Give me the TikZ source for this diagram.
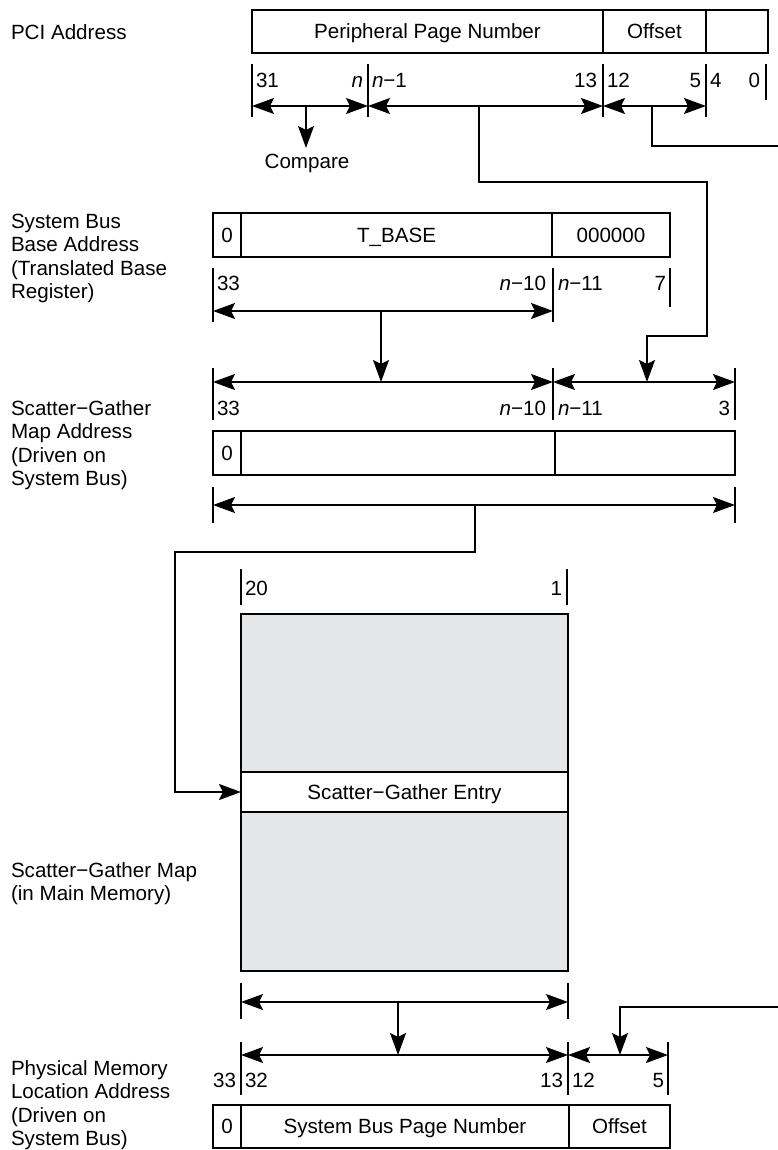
\documentclass[tikz,border=0pt]{standalone}
\usepackage{fontspec}
\setmainfont{Liberation Sans}
\usetikzlibrary{arrows.meta}
\definecolor{mapgray}{RGB}{229,230,232}
\newcommand\firstln{\rule{0pt}{15pt}}
\begin{document}
\begin{tikzpicture}[x=1pt,y=-1pt,
  line width=1.4pt,
  >={Stealth[length=22pt,width=16pt,inset=4pt]},
  every node/.style={font=\fontsize{20.6}{23.3}\selectfont, inner sep=0pt, outer sep=0pt},
  cell/.style={draw, rectangle, anchor=north west, text height=14.7pt, text depth=0pt, minimum height=44pt},
  sidelbl/.style={anchor=north west, align=left},
  labw/.style={anchor=base west},
  labe/.style={anchor=base east},
  dimarr/.style={<->},
  onearr/.style={->},
]
\useasboundingbox (0,0) rectangle (778,1150);

% ---------- side labels ----------
\node[sidelbl] (lpci) at (11,24.4) {\firstln PCI Address};
\node[sidelbl] (lsb) at (11,213.4) {\firstln System Bus\\Base Address\\(Translated Base\\Register)};
\node[sidelbl] (lsg) at (11,400.4) {\firstln Scatter−Gather\\Map Address\\(Driven on\\System Bus)};
\node[sidelbl] (lmap) at (11,862.4) {\firstln Scatter−Gather Map\\(in Main Memory)};
\node[sidelbl] (lphy) at (11,1060.4) {\firstln Physical Memory\\Location Address\\(Driven on\\System Bus)};

% ---------- PCI address ----------
\node[cell, minimum width=351pt, minimum height=43pt] (ppn) at (252,10) {Peripheral Page Number};
\node[cell, minimum width=103pt, minimum height=43pt] (poff) at (603,10) {Offset};
\node[cell, minimum width=62pt, minimum height=43pt] (plow) at (706,10) {};

\coordinate (a1t) at (252,64);  \coordinate (a1b) at (252,117);
\coordinate (a2t) at (368,64);  \coordinate (a2b) at (368,117);
\coordinate (a3t) at (603,64);  \coordinate (a3b) at (603,117);
\coordinate (a4t) at (706,64);  \coordinate (a4b) at (706,117);
\coordinate (a5t) at (766,64);  \coordinate (a5b) at (766,100);
\draw (a1t) -- (a1b); \draw (a2t) -- (a2b); \draw (a3t) -- (a3b);
\draw (a4t) -- (a4b); \draw (a5t) -- (a5b);

\node[labw] (l31) at (256,87.4) {31};
\node[labe] (ln) at (363,87.4) {\textit{n}};
\node[labw] (lnm1) at (372,87.4) {\textit{n}−1};
\node[labe] (l13) at (597,87.4) {13};
\node[labw] (l12) at (607,87.4) {12};
\node[labe] (l5) at (701,87.4) {5};
\node[labw] (l4) at (710,87.4) {4};
\node[labe] (l0) at (760,87.4) {0};

\coordinate (d1a) at (252,106); \coordinate (d1b) at (368,106);
\coordinate (d1c) at (603,106); \coordinate (d1d) at (706,106);
\draw[dimarr] (d1a) -- (d1b);
\draw[dimarr] (d1b) -- (d1c);
\draw[dimarr] (d1c) -- (d1d);

\coordinate (cmpS) at (306,106); \coordinate (cmpT) at (306,148);
\draw[onearr] (cmpS) -- (cmpT);
\node[text height=14.7pt, text depth=0pt] (cmp) at (307,161) {Compare};

% connector from page number to scatter-gather offset field
\coordinate (tS) at (479,106); \coordinate (t1) at (479,182);
\coordinate (t2) at (707,182); \coordinate (t3) at (707,336);
\coordinate (t4) at (647,336); \coordinate (t5) at (647,382);
\draw[onearr] (tS) -- (t1) -- (t2) -- (t3) -- (t4) -- (t5);

% offset connector leaving to the right
\coordinate (oS) at (652,106); \coordinate (o1) at (652,146); \coordinate (oE) at (778,146);
\draw (oS) -- (o1) -- (oE);

% ---------- T_BASE ----------
\node[cell, minimum width=28pt] (tb0) at (213,213) {0};
\node[cell, minimum width=311pt] (tbb) at (241,213) {T\_BASE};
\node[cell, minimum width=118pt] (tbz) at (552,213) {000000};

\coordinate (b1t) at (213,268); \coordinate (b1b) at (213,322);
\coordinate (b2t) at (553,268); \coordinate (b2b) at (553,322);
\coordinate (b3t) at (670,268); \coordinate (b3b) at (670,307);
\draw (b1t) -- (b1b); \draw (b2t) -- (b2b); \draw (b3t) -- (b3b);
\node[labw] (m33) at (217,290.4) {33};
\node[labe] (mn10) at (546,290.4) {\textit{n}−10};
\node[labw] (mn11) at (558,290.4) {\textit{n}−11};
\node[labe] (m7) at (666,290.4) {7};

\coordinate (d2a) at (213,311); \coordinate (d2b) at (553,311);
\draw[dimarr] (d2a) -- (d2b);
\coordinate (dn2S) at (381,311); \coordinate (dn2T) at (381,382);
\draw[onearr] (dn2S) -- (dn2T);

% ---------- scatter-gather map address ----------
\coordinate (c1t) at (213,368); \coordinate (c1b) at (213,420);
\coordinate (c2t) at (553,368); \coordinate (c2b) at (553,420);
\coordinate (c3t) at (735,368); \coordinate (c3b) at (735,420);
\draw (c1t) -- (c1b); \draw (c2t) -- (c2b); \draw (c3t) -- (c3b);
\coordinate (d3a) at (213,382); \coordinate (d3b) at (553,382); \coordinate (d3c) at (735,382);
\draw[dimarr] (d3a) -- (d3b);
\draw[dimarr] (d3b) -- (d3c);
\node[labw] (s33) at (217,415.4) {33};
\node[labe] (sn10) at (546,415.4) {\textit{n}−10};
\node[labw] (sn11) at (558,415.4) {\textit{n}−11};
\node[labe] (s3) at (730,415.4) {3};

\node[cell, minimum width=28pt] (sg0) at (213,431) {0};
\node[cell, minimum width=314pt] (sgh) at (241,431) {};
\node[cell, minimum width=180pt] (sgl) at (555,431) {};

\coordinate (e1t) at (213,487); \coordinate (e1b) at (213,523);
\coordinate (e2t) at (735,487); \coordinate (e2b) at (735,523);
\draw (e1t) -- (e1b); \draw (e2t) -- (e2b);
\coordinate (d4a) at (213,505); \coordinate (d4b) at (735,505);
\draw[dimarr] (d4a) -- (d4b);

% ---------- scatter-gather map ----------
\coordinate (f1t) at (241,569); \coordinate (f1b) at (241,605);
\coordinate (f2t) at (567,569); \coordinate (f2b) at (567,605);
\draw (f1t) -- (f1b); \draw (f2t) -- (f2b);
\node[labw] (g20) at (245,595.4) {20};
\node[labe] (g1) at (562,595.4) {1};

\node[draw, fill=mapgray, rectangle, anchor=north west, minimum width=327pt, minimum height=357pt] (map) at (241,614) {};
\node[cell, fill=white, minimum width=327pt, minimum height=40pt] (entry) at (241,772) {Scatter−Gather Entry};

\coordinate (gS) at (475,505); \coordinate (g1c) at (475,552);
\coordinate (g2c) at (175,552); \coordinate (g3c) at (175,792);
\draw[onearr] (gS) -- (g1c) -- (g2c) -- (g3c) -- (entry.west);

% ---------- physical memory address ----------
\coordinate (h1t) at (241,983); \coordinate (h1b) at (241,1019);
\coordinate (h2t) at (568,983); \coordinate (h2b) at (568,1019);
\draw (h1t) -- (h1b); \draw (h2t) -- (h2b);
\coordinate (d5a) at (241,1002); \coordinate (d5b) at (568,1002);
\draw[dimarr] (d5a) -- (d5b);
\coordinate (dn5S) at (398,1002); \coordinate (dn5T) at (398,1055);
\draw[onearr] (dn5S) -- (dn5T);

\coordinate (k1t) at (241,1042); \coordinate (k1b) at (241,1095);
\coordinate (k2t) at (568,1042); \coordinate (k2b) at (568,1095);
\coordinate (k3t) at (668,1042); \coordinate (k3b) at (668,1095);
\draw (k1t) -- (k1b); \draw (k2t) -- (k2b); \draw (k3t) -- (k3b);
\coordinate (d6a) at (241,1055); \coordinate (d6b) at (568,1055); \coordinate (d6c) at (668,1055);
\draw[dimarr] (d6a) -- (d6b);
\draw[dimarr] (d6b) -- (d6c);
\node[labe] (p33) at (236,1087.4) {33};
\node[labw] (p32) at (245,1087.4) {32};
\node[labe] (p13) at (563,1087.4) {13};
\node[labw] (p12) at (572,1087.4) {12};
\node[labe] (p5) at (664,1087.4) {5};

% offset connector coming back from the right
\coordinate (rS) at (778,1007); \coordinate (r1) at (620,1007); \coordinate (rT) at (620,1055);
\draw[onearr] (rS) -- (r1) -- (rT);

\node[cell, minimum width=28pt, minimum height=43pt] (pb0) at (213,1105) {0};
\node[cell, minimum width=328pt, minimum height=43pt] (pbn) at (241,1105) {System Bus Page Number};
\node[cell, minimum width=101pt, minimum height=43pt] (pbo) at (569,1105) {Offset};
\end{tikzpicture}
\end{document}
